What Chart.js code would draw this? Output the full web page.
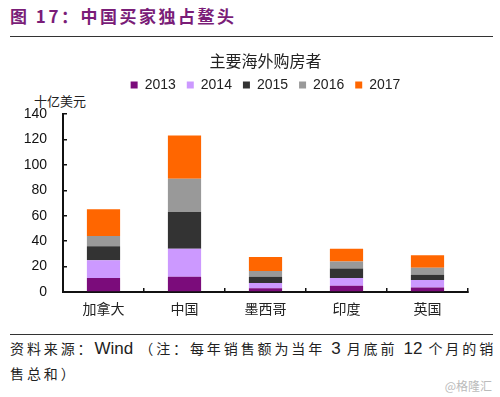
<!DOCTYPE html>
<html>
<head>
<meta charset="utf-8">
<script src="https://cdn.jsdelivr.net/npm/chart.js@4"></script>
<style>
    body { margin: 0; background: #fff; width: 500px; height: 397px; position: relative; overflow: hidden; font-family: "Noto Sans CJK SC", sans-serif; }
    .fig-title { position: absolute; left: 10px; top: 3px; font-size: 17px; font-weight: bold; color: #7a1d78; letter-spacing: 2.5px; }
    .rule { position: absolute; left: 10px; width: 483px; height: 1px; background: #333; }
    .unit { position: absolute; left: 34px; top: 91px; font-size: 13px; color: #222; }
    .chart-box { position: absolute; left: 0; top: 44px; width: 500px; height: 290px; }
    .note { position: absolute; left: 10px; top: 336px; font-size: 14px; color: #222; letter-spacing: 2.9px; line-height: 24px; white-space: nowrap; }
    .note .latin { font-family: "Liberation Sans", Arial, sans-serif; letter-spacing: 0; font-size: 17px; }
    .mark { position: absolute; right: 8px; top: 377px; font-size: 12px; color: #bbb; }
</style>
</head>
<body>
<div class="fig-title">图 17：中国买家独占鳌头</div>
<div class="rule" style="top:36px"></div>
<div class="unit">十亿美元</div>
<div class="chart-box"><canvas id="buyers"></canvas></div>
<div class="rule" style="top:334px"></div>
<div class="note">资料来源：<span class="latin">Wind</span> （注：每年销售额为当年 <span class="latin">3</span> 月底前 <span class="latin">12</span> 个月的销<br>售总和）</div>
<div class="mark">@格隆汇</div>

<script>
// 国家
const countries = ["加拿大", "中国", "墨西哥", "印度", "英国"];
// 每年销售额（十亿美元）
const sales2013 = [11, 12, 3, 5, 3.5];
const sales2014 = [14, 22, 4, 6, 6];
const sales2015 = [11, 29, 5, 7.5, 4];
const sales2016 = [8, 26, 4.5, 5.5, 5.5];
const sales2017 = [21, 34, 11, 10, 10];
const yearLabels = ["2013", "2014", "2015", "2016", "2017"];
const yearColors = ["#7b0c7b", "#cc99ff", "#333333", "#999999", "#ff6600"];

const series = [sales2013, sales2014, sales2015, sales2016, sales2017];

// 图例和绘图区之间留点空
const legendGap = {
    id: "legendGap",
    beforeInit(chart) {
        const fit = chart.legend.fit;
        chart.legend.fit = function () {
            fit.bind(chart.legend)();
            this.height += 12;
        };
    }
};

new Chart(document.getElementById("buyers"), {
    type: "bar",
    data: {
        labels: countries,
        datasets: series.map((values, i) => ({
            label: yearLabels[i],
            data: values,
            backgroundColor: yearColors[i],
            categoryPercentage: 1,
            barPercentage: 0.41
        }))
    },
    plugins: [legendGap],
    options: {
        responsive: true,
        maintainAspectRatio: false,
        animation: false,
        layout: { padding: { left: 10, right: 32, top: 0, bottom: 0 } },
        plugins: {
            tooltip: { enabled: false },
            title: {
                display: true,
                fullSize: false,
                text: "主要海外购房者",
                color: "#222",
                font: { family: "Noto Sans CJK SC", size: 16, weight: "normal", lineHeight: 0.75 },
                padding: { top: 11, bottom: 0 }
            },
            legend: {
                fullSize: false,
                labels: {
                    boxWidth: 7,
                    boxHeight: 7,
                    padding: 11,
                    color: "#222",
                    font: { family: "Liberation Sans", size: 14 }
                }
            }
        },
        scales: {
            x: {
                stacked: true,
                afterFit(scale) { scale.height = 42; },
                border: { color: "#111", width: 2 },
                grid: { drawOnChartArea: false, tickLength: -4, color: "#111", lineWidth: 1.5, offset: true },
                ticks: { color: "#222", padding: 12, font: { family: "Noto Sans CJK SC", size: 14 } }
            },
            y: {
                stacked: true,
                min: 0,
                max: 140,
                afterFit(scale) { scale.width = 53; },
                border: { color: "#111", width: 2 },
                grid: { drawOnChartArea: false, tickLength: -4, color: "#111", lineWidth: 1.5 },
                ticks: { stepSize: 20, color: "#111", padding: 20, font: { family: "Liberation Sans", size: 14 } }
            }
        }
    }
});
</script>
</body>
</html>
